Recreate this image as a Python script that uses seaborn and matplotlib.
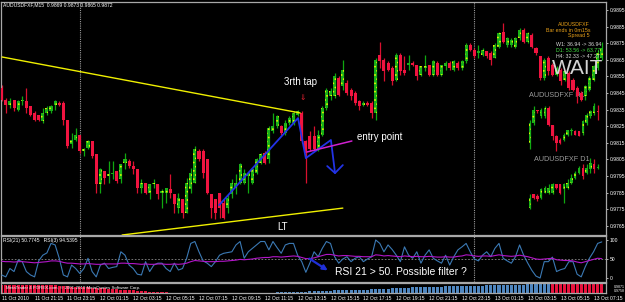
import matplotlib
matplotlib.use("Agg")
import matplotlib.pyplot as plt
import seaborn as sns
import numpy as np
import pandas as pd

# ---------------- data ----------------
opens = [0.9848,0.9841,0.9838,0.9841,0.9835,0.9840,0.9840,0.9837,0.9833,0.9832,
         0.9828,0.9833,0.9834,0.9838,0.9839,0.9839,0.9829,0.9814,0.9817,0.9820,
         0.9810,0.9812,0.9816,0.9808,0.9790,0.9798,0.9795,0.9796,0.9798,0.9793,
         0.9803,0.9804,0.9801,0.9799,0.9788,0.9791,0.9785,0.9790,0.9790,0.9785,
         0.9785,0.9787,0.9784,0.9776,0.9781,0.9773,0.9787,0.9791,0.9810,0.9810,
         0.9805,0.9784,0.9781,0.9785,0.9779,0.9776,0.9784,0.9788,0.9791,0.9791,
         0.9795,0.9791,0.9797,0.9803,0.9809,0.9805,0.9822,0.9825,0.9825,0.9821,
         0.9827,0.9827,0.9832,0.9833,0.9816,0.9819,0.9819,0.9811,0.9820,0.9836,
         0.9843,0.9843,0.9854,0.9849,0.9851,0.9847,0.9845,0.9840,0.9838,0.9839,
         0.9839,0.9833,0.9868,0.9865,0.9863,0.9860,0.9853,0.9868,0.9859,0.9862,
         0.9863,0.9862,0.9856,0.9860,0.9862,0.9856,0.9863,0.9856,0.9861,0.9863,
         0.9859,0.9863,0.9860,0.9864,0.9874,0.9871,0.9869,0.9868,0.9870,0.9869,
         0.9866,0.9873,0.9882,0.9874,0.9874,0.9873,0.9878,0.9883,0.9876,0.9880,
         0.9872,0.9867,0.9854,0.9866,0.9862,0.9856,0.9859,0.9853,0.9857,0.9853,
         0.9848,0.9845,0.9843,0.9847,0.9853,0.9860,0.9866]
highs = [0.9850,0.9842,0.9842,0.9841,0.9841,0.9843,0.9848,0.9837,0.9834,0.9832,
         0.9836,0.9837,0.9838,0.9841,0.9840,0.9840,0.9829,0.9821,0.9824,0.9820,
         0.9812,0.9817,0.9816,0.9808,0.9800,0.9798,0.9804,0.9804,0.9798,0.9802,
         0.9809,0.9805,0.9804,0.9799,0.9793,0.9791,0.9790,0.9793,0.9790,0.9787,
         0.9788,0.9796,0.9784,0.9785,0.9781,0.9794,0.9800,0.9813,0.9811,0.9811,
         0.9805,0.9784,0.9781,0.9785,0.9781,0.9784,0.9793,0.9796,0.9803,0.9799,
         0.9797,0.9800,0.9806,0.9809,0.9810,0.9825,0.9833,0.9832,0.9826,0.9829,
         0.9831,0.9834,0.9835,0.9834,0.9817,0.9822,0.9825,0.9823,0.9837,0.9848,
         0.9848,0.9857,0.9855,0.9865,0.9853,0.9848,0.9846,0.9841,0.9840,0.9840,
         0.9840,0.9866,0.9876,0.9866,0.9864,0.9861,0.9869,0.9869,0.9867,0.9868,
         0.9864,0.9862,0.9861,0.9868,0.9862,0.9865,0.9864,0.9862,0.9864,0.9864,
         0.9865,0.9864,0.9865,0.9875,0.9875,0.9872,0.9874,0.9872,0.9870,0.9870,
         0.9875,0.9882,0.9887,0.9879,0.9878,0.9879,0.9884,0.9884,0.9882,0.9881,
         0.9873,0.9867,0.9866,0.9867,0.9863,0.9861,0.9860,0.9859,0.9858,0.9854,
         0.9849,0.9846,0.9850,0.9855,0.9862,0.9871,0.9876]
lows = [0.9840,0.9833,0.9836,0.9834,0.9834,0.9838,0.9833,0.9831,0.9828,0.9828,
        0.9827,0.9832,0.9833,0.9835,0.9837,0.9826,0.9812,0.9812,0.9816,0.9809,
        0.9807,0.9811,0.9806,0.9785,0.9785,0.9790,0.9791,0.9793,0.9791,0.9791,
        0.9799,0.9800,0.9796,0.9785,0.9785,0.9784,0.9781,0.9788,0.9781,0.9776,
        0.9779,0.9782,0.9773,0.9773,0.9770,0.9773,0.9785,0.9791,0.9804,0.9794,
        0.9784,0.9770,0.9769,0.9770,0.9769,0.9773,0.9782,0.9784,0.9790,0.9790,
        0.9785,0.9790,0.9796,0.9802,0.9802,0.9803,0.9821,0.9824,0.9820,0.9820,
        0.9826,0.9826,0.9831,0.9815,0.9791,0.9810,0.9810,0.9810,0.9819,0.9835,
        0.9841,0.9842,0.9843,0.9847,0.9844,0.9841,0.9838,0.9835,0.9837,0.9837,
        0.9830,0.9829,0.9860,0.9852,0.9858,0.9850,0.9852,0.9856,0.9856,0.9859,
        0.9861,0.9853,0.9855,0.9858,0.9855,0.9855,0.9855,0.9855,0.9859,0.9859,
        0.9858,0.9859,0.9859,0.9863,0.9870,0.9866,0.9866,0.9867,0.9866,0.9862,
        0.9866,0.9872,0.9875,0.9873,0.9873,0.9872,0.9877,0.9875,0.9875,0.9872,
        0.9868,0.9853,0.9853,0.9856,0.9855,0.9855,0.9850,0.9852,0.9847,0.9846,
        0.9839,0.9840,0.9841,0.9846,0.9852,0.9859,0.9865]
closes = [0.9841,0.9838,0.9840,0.9836,0.9840,0.9841,0.9836,0.9832,0.9829,0.9829,
          0.9833,0.9836,0.9837,0.9840,0.9838,0.9829,0.9813,0.9817,0.9820,0.9810,
          0.9811,0.9816,0.9807,0.9790,0.9799,0.9794,0.9796,0.9797,0.9792,0.9802,
          0.9805,0.9801,0.9799,0.9788,0.9791,0.9785,0.9790,0.9791,0.9784,0.9786,
          0.9788,0.9785,0.9778,0.9782,0.9773,0.9791,0.9797,0.9811,0.9805,0.9797,
          0.9785,0.9776,0.9773,0.9776,0.9770,0.9782,0.9791,0.9791,0.9802,0.9797,
          0.9797,0.9799,0.9805,0.9808,0.9803,0.9824,0.9825,0.9831,0.9821,0.9827,
          0.9830,0.9833,0.9834,0.9816,0.9809,0.9811,0.9811,0.9820,0.9836,0.9847,
          0.9846,0.9855,0.9844,0.9859,0.9845,0.9843,0.9839,0.9837,0.9839,0.9838,
          0.9833,0.9865,0.9864,0.9858,0.9859,0.9852,0.9868,0.9858,0.9857,0.9863,
          0.9862,0.9855,0.9861,0.9861,0.9856,0.9864,0.9856,0.9862,0.9863,0.9860,
          0.9864,0.9860,0.9864,0.9874,0.9871,0.9867,0.9870,0.9871,0.9867,0.9865,
          0.9874,0.9881,0.9876,0.9878,0.9877,0.9878,0.9883,0.9876,0.9881,0.9873,
          0.9869,0.9854,0.9865,0.9858,0.9856,0.9860,0.9852,0.9858,0.9848,0.9847,
          0.9843,0.9841,0.9849,0.9854,0.9861,0.9869,0.9872]

rsi21 = [44,43,43,42,43,43,42,41,40,41,
         42,43,45,45,44,41,39,39,38,37,
         37,38,37,36,36,37,37,37,37,39,
         39,38,38,37,36,37,36,36,37,37,
         36,36,37,36,37,39,43,46,45,44,
         43,43,43,44,44,45,46,47,49,48,
         49,50,52,53,54,54,56,56,55,56,
         57,58,57,54,51,51,53,56,59,62,
         62,60,58,59,59,58,57,57,56,56,
         56,61,60,58,59,58,57,56,58,57,
         56,57,56,56,57,56,55,55,56,55,
         55,57,58,61,60,58,57,58,58,57,
         59,61,59,58,57,58,60,58,56,53,
         50,49,50,51,52,48,47,46,46,45,
         42,40,43,46,49,52,51]
rsi3 = [8,3,25,17,47,43,17,8,3,45,
        60,66,91,87,52,8,3,34,25,12,
        25,52,17,3,34,39,25,28,30,69,
        60,34,25,10,8,43,17,34,39,39,
        25,17,39,21,25,52,91,96,69,45,
        39,30,43,60,65,67,69,87,96,52,
        69,78,87,96,96,74,96,80,65,87,
        91,91,60,43,15,40,69,56,78,96,
        91,56,39,50,56,43,52,56,43,50,
        56,100,91,69,87,75,60,43,82,60,
        52,69,39,60,74,52,45,39,60,34,
        56,74,82,91,69,50,45,60,69,56,
        78,91,52,45,39,56,87,60,39,20,
        5,0,43,43,55,17,22,25,43,43,
        10,3,30,52,69,91,95]

# strip histogram (negative = red, positive = blue)
strip = ([-8]*13 +
         [-7.6,-7.4,-7.1,-6.8,-6.5,-6.2,-6,-5.8,-5.6,-5.3,-5.1,-4.9,-4.6,-4.3,-4,-3.7,
          -3.4,-3.1,-2.8,-2.6,-2.3,-2,-1.8,-1.5,-1.3,-1.1,-0.9,-0.7,-0.5,-0.3,-0.2,-0.1] +
         [0]*18 +
         [0.2,0.3,0.4,0.5,0.6,0.7,0.8,0.9,1.0,1.1,
          1.3,1.5,1.7,1.8,2.0,2.1,2.3,2.5,2.6,2.8,
          2.9,3.0,3.1,3.2,3.3,3.4,3.5,3.7,3.9,4.1,
          4.3,4.5,4.7,4.9,5.1,5.3,5.5,5.7,5.9,6.0,
          6.1,6.2,6.3,6.4,6.5,6.6,6.7,6.8,6.9,7.0,
          7.1,7.2,7.3,7.4,7.5,7.6,7.7,7.8,7.9,8.0,
          8.1,8.2,8.3,8.4,8.5,8.6,8.7,8.8,8.9,9.0,9.1] +
         [-10]*13)

date_labels = ["11 Oct 2010","11 Oct 21:15","11 Oct 23:15","12 Oct 01:15","12 Oct 03:15",
               "12 Oct 05:15","12 Oct 07:15","12 Oct 09:15","12 Oct 11:15","12 Oct 13:15",
               "12 Oct 15:15","12 Oct 17:15","12 Oct 19:15","12 Oct 21:15","12 Oct 23:15",
               "13 Oct 01:15","13 Oct 03:15","13 Oct 05:15","13 Oct 07:15"]
price_ticks = [0.9765,0.9775,0.9785,0.9795,0.9805,0.9815,0.9825,0.9835,0.9845,
               0.9855,0.9865,0.9875,0.9885,0.9895]
day_separators = [19, 115]

# mini H1 / D1 overlays (price units as drawn on the chart)
h1_o = [0.9815,0.9827,0.9835,0.9831,0.9831,0.9836,0.9826,0.9819,0.9817,0.9817,0.9820,0.9822,0.9822,0.9822,0.9821,0.9827,0.9831,0.9833,0.9834]
h1_h = [0.9829,0.9837,0.9835,0.9836,0.9837,0.9837,0.9826,0.9820,0.9818,0.9821,0.9823,0.9824,0.9823,0.9822,0.9829,0.9833,0.9835,0.9839,0.9838]
h1_l = [0.9811,0.9826,0.9833,0.9830,0.9830,0.9825,0.9817,0.9810,0.9814,0.9816,0.9819,0.9820,0.9820,0.9819,0.9820,0.9826,0.9830,0.9832,0.9829]
h1_c = [0.9827,0.9835,0.9834,0.9835,0.9836,0.9826,0.9819,0.9815,0.9815,0.9820,0.9823,0.9823,0.9820,0.9819,0.9828,0.9832,0.9834,0.9837,0.98335]
d1_o = [0.9776,0.9784,0.9783,0.9782,0.9785,0.9785,0.9785,0.9790,0.9790,0.9787,0.9788,0.9791,0.9794,0.9797,0.9800,0.9797,0.9799,0.9802,0.9800]
d1_h = [0.9784,0.9784,0.9784,0.9788,0.9789,0.9790,0.9791,0.9790,0.9790,0.9791,0.9793,0.9796,0.9798,0.9801,0.9802,0.9802,0.9806,0.9805,0.9802]
d1_l = [0.9775,0.9781,0.9780,0.9781,0.9785,0.9784,0.9784,0.9787,0.9784,0.9779,0.9787,0.9790,0.9793,0.9796,0.9793,0.9796,0.9797,0.9797,0.9799]
d1_c = [0.9782,0.9782,0.9781,0.9787,0.9788,0.9788,0.9790,0.9788,0.9785,0.9790,0.9791,0.9794,0.9797,0.9800,0.9795,0.9800,0.9803,0.9799,0.98005]

# drawn objects (bar index, price)
upper_line = ([0.07, 72.6], [0.98667, 0.98330])
lower_line = ([29.3, 83.0], [0.97595, 0.97757])
zigzag = ([52.9, 72.1, 74.0, 80.1, 81.1], [0.97775, 0.98299, 0.98058, 0.98167, 0.97968])
arrow_head = ([79.2, 81.1, 83.0], [0.98010, 0.97968, 0.98016])
entry_line = ([74.3, 85.2], [0.98095, 0.98161])

# ---------------- style ----------------
sns.set_theme(style="dark", rc={"axes.facecolor": "black", "figure.facecolor": "black",
                                 "axes.edgecolor": "#a8a8a8", "hatch.linewidth": 0.7})
plt.rcParams['font.family'] = ['Liberation Sans', 'DejaVu Sans']

W, H = 625, 302
fig = plt.figure(figsize=(W/100, H/100), dpi=100, facecolor='black')

def px_ax(l, t, r, b):
    return fig.add_axes([l/W, 1-b/H, (r-l)/W, (b-t)/H])

def ftext(xp, yp, s, **kw):
    fig.text(xp/W, 1-yp/H, s, **kw)

ax = px_ax(1, 2, 606, 235)
ax_r = px_ax(1, 236, 606, 282)
ax_s = px_ax(1, 283, 606, 293)

XMIN, XMAX = -0.17, 147.03
for a in (ax, ax_r, ax_s):
    a.set_facecolor('black')
    a.set_xlim(XMIN, XMAX)
    for sp in a.spines.values():
        sp.set_color('#a8a8a8')
        sp.set_linewidth(0.9)
    a.grid(False)

BULL_FACE, BULL_HATCH, BULL_WICK = '#18b018', '#e0f400', '#10a810'
BEAR_FACE, BEAR_WICK = '#f01440', '#d8102f'

def candles(a, xs, o, h, l, c, width=0.74, hatch='....'):
    xs = np.asarray(xs, float)
    o, h, l, c = map(np.asarray, (o, h, l, c))
    up = c >= o
    bot = np.minimum(o, c)
    hgt = np.maximum(np.abs(c - o), 0.00007)
    a.vlines(xs[up], l[up], h[up], color=BULL_WICK, lw=0.9, zorder=2)
    a.vlines(xs[~up], l[~up], h[~up], color=BEAR_WICK, lw=0.9, zorder=2)
    a.bar(xs[up], hgt[up], bottom=bot[up], width=width, color=BULL_FACE,
          edgecolor=BULL_HATCH, hatch=hatch, linewidth=0, zorder=3)
    a.bar(xs[~up], hgt[~up], bottom=bot[~up], width=width, color=BEAR_FACE,
          linewidth=0, zorder=3)

idx = np.arange(len(opens))
df = pd.DataFrame({"bar": idx, "open": opens, "high": highs, "low": lows, "close": closes,
                   "rsi21": rsi21, "rsi3": rsi3, "strip": strip})

# ---------------- main price panel ----------------
ax.set_ylim(0.97595, 0.98998)
for sep in day_separators:
    for a in (ax, ax_r):
        a.axvline(sep, color='#9a9a9a', lw=0.8, ls=(0, (1, 1)), zorder=1)

candles(ax, df["bar"], df["open"], df["high"], df["low"], df["close"])

# mini overlays
mini_x = 128.5 + 0.92*np.arange(len(h1_o))
candles(ax, mini_x, h1_o, h1_h, h1_l, h1_c, width=0.62)
candles(ax, mini_x, d1_o, d1_h, d1_l, d1_c, width=0.62)
ax.text(128.2, 0.98432, "AUDUSDFXF H1", color='#9a9a9a', fontsize=5.2, va='center', zorder=1)
ax.text(129.4, 0.98047, "AUDUSDFXF D1", color='#9a9a9a', fontsize=5.2, va='center', zorder=1)

ax.plot(*upper_line, color='#f0f000', lw=1.0, zorder=4)
ax.plot(*lower_line, color='#f0f000', lw=1.0, zorder=4)
ax.plot(*zigzag, color='#2233e6', lw=1.3, zorder=5)
ax.plot(*arrow_head, color='#2233e6', lw=1.3, zorder=5)
ax.plot(*entry_line, color='#d020d0', lw=1.1, zorder=5)

ax.text(72.6, 0.98516, "3rth tap", color='white', fontsize=7, ha='center', va='center', zorder=6)
ax.text(73.1, 0.98426, "\u21d3", color='#e02030', fontsize=5.5, ha='center', va='center',
        zorder=6, family='DejaVu Sans')
ax.text(86.4, 0.98185, "entry point", color='white', fontsize=7, ha='left', va='center', zorder=6)
ax.text(68.2, 0.97643, "LT", color='white', fontsize=7, ha='center', va='center', zorder=6)
ax.text(140.0, 0.98595, "WAIT", color='#d4d4d4', fontsize=15, ha='center', va='center', zorder=6)

ax.yaxis.tick_right()
ax.set_yticks(price_ticks)
ax.set_yticklabels([f"{p:.4f}" for p in price_ticks])
ax.tick_params(axis='y', colors='white', labelsize=3.6, length=1.6, width=0.5, pad=0.8,
               right=True, left=False)
ax.tick_params(axis='x', bottom=False, labelbottom=False)

# ---------------- RSI panel ----------------
ax_r.set_ylim(-10.5, 110.5)
ax_r.axhline(50, color='#8a8a8a', lw=0.6, ls=(0, (2, 2)), zorder=1)
sns.lineplot(data=df, x="bar", y="rsi3", ax=ax_r, color='#3b79b4', lw=0.8, zorder=3)
sns.lineplot(data=df, x="bar", y="rsi21", ax=ax_r, color='#b316c9', lw=0.8, zorder=4)
ax_r.annotate("", xy=(79.9, 16), xytext=(74.3, 55),
              arrowprops=dict(arrowstyle='-|>', color='#1f2fd8', lw=1.6, mutation_scale=7),
              zorder=6)
ax_r.text(81.1, 16, "RSI 21 > 50. Possible filter ?", color='white', fontsize=7.5,
          ha='left', va='center', zorder=6)
ax_r.set_xlabel(""); ax_r.set_ylabel("")
ax_r.yaxis.tick_right()
ax_r.set_yticks([0, 50, 100])
ax_r.set_yticklabels(["0", "50", "100"])
ax_r.tick_params(axis='y', colors='white', labelsize=3.6, length=1.6, width=0.5, pad=0.8,
                 right=True, left=False)
ax_r.tick_params(axis='x', bottom=False, labelbottom=False)

# ---------------- strip panel ----------------
s = np.asarray(strip, float)
ax_s.set_ylim(0, 10)
ax_s.bar(idx[s < 0], -s[s < 0], width=0.75, color='#e8123c', linewidth=0)
ax_s.bar(idx[s > 0], s[s > 0], width=0.75, color='#4f86bf', linewidth=0)
ax_s.set_yticks([])
ax_s.set_xticks(np.arange(0, 147, 8))
ax_s.set_xticklabels(date_labels, ha='left')
ax_s.tick_params(axis='x', colors='white', labelsize=3.6, length=1.2, width=0.5, pad=1.0)
ax_s.text(1.0, 5, "MetaTrader 4 FOREX.com, \u00a9 2001-2010 MetaQuotes Software Corp.",
          color='white', fontsize=3.2, va='center')

# ---------------- UI texts ----------------
ftext(3, 5, "AUDUSDFXF,M15  0.9869 0.9873 0.9865 0.9872", color='white', fontsize=3.6, va='center')
ftext(3, 240.5, "RSI(21) 50.7745   RSI(3) 94.5395", color='white', fontsize=3.6, va='center')
ftext(590, 25, "AUDUSDFXF", color='#e8a018', fontsize=3.8, ha='right', va='center')
ftext(590, 30.5, "Bar ends in 0m15s", color='#e8a018', fontsize=3.8, ha='right', va='center')
ftext(590, 35.5, "Spread 5", color='#e8a018', fontsize=3.8, ha='right', va='center')
ftext(556, 44, "W1: 36.94 -> 36.94", color='#d8d8d8', fontsize=3.8, va='center')
ftext(556, 50, "D1: 53.56 -> 63.77", color='#40e040', fontsize=3.8, va='center')
ftext(556, 56.5, "H4: 32.33 -> 47.27", color='#d8d8d8', fontsize=3.8, va='center')
ftext(614, 287, "0.9871", color='white', fontsize=2.6, va='center')
ftext(614, 291, "0.9758", color='white', fontsize=2.6, va='center')

fig.savefig("out.png", dpi=100, facecolor='black')
